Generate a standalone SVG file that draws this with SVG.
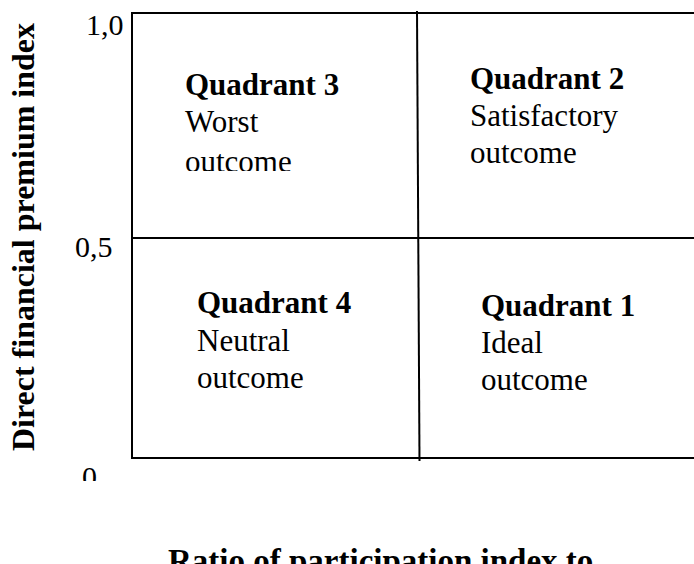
<svg xmlns="http://www.w3.org/2000/svg" width="694" height="564" viewBox="0 0 694 564">
<style>
.t{font-family:"Liberation Serif","Times New Roman",serif;fill:#000}
.b{font-weight:bold}
.q{font-size:31px}
.ax{font-size:30px}
.ln{stroke:#000;stroke-width:2;fill:none}
</style>
<defs>
<clipPath id="c3"><rect x="0" y="0" width="694" height="171"/></clipPath>
<clipPath id="c0"><rect x="0" y="0" width="694" height="481"/></clipPath>
</defs>
<rect width="694" height="564" fill="#fff"/>
<g id="grid">
<path class="ln" d="M694 13H132V458H694"/>
<path class="ln" d="M132 238H694"/>
<path class="ln" d="M417 11L419.5 461"/>
</g>
<g id="ticks">
<text class="t ax" x="86" y="35">1,0</text>
<text class="t ax" x="75" y="257">0,5</text>
<text class="t ax" x="82" y="487" clip-path="url(#c0)">0</text>
</g>
<g id="q3" class="t q">
<text class="b" x="185" y="95">Quadrant 3</text>
<text x="185" y="132">Worst</text>
<text x="185" y="172" clip-path="url(#c3)">outcome</text>
</g>
<g id="q2" class="t q">
<text class="b" x="470" y="89">Quadrant 2</text>
<text x="470" y="126">Satisfactory</text>
<text x="470" y="163">outcome</text>
</g>
<g id="q4" class="t q">
<text class="b" x="197" y="313">Quadrant 4</text>
<text x="197" y="351">Neutral</text>
<text x="197" y="388">outcome</text>
</g>
<g id="q1" class="t q">
<text class="b" x="481" y="316">Quadrant 1</text>
<text x="481" y="353">Ideal</text>
<text x="481" y="390">outcome</text>
</g>
<g id="yaxis">
<text class="t b" font-size="32" text-anchor="middle" transform="translate(34 237) rotate(-90)">Direct financial premium index</text>
</g>
<g id="xaxis">
<text class="t b" font-size="33" x="168" y="572">Ratio of participation index to</text>
</g>
</svg>
